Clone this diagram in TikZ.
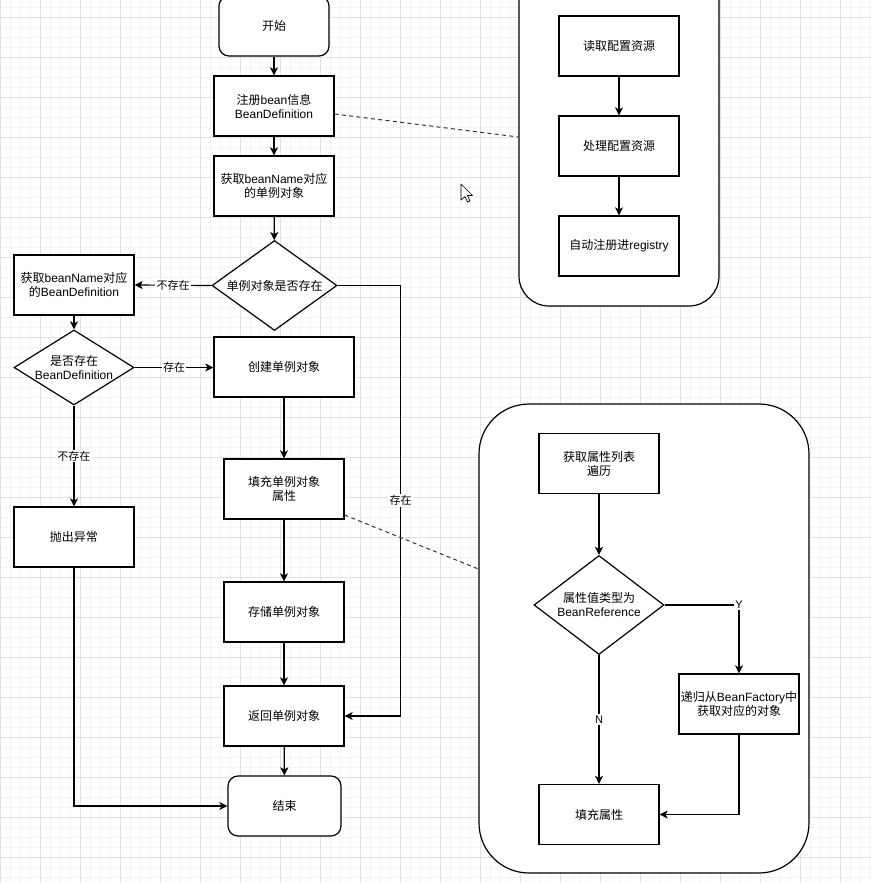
\documentclass[tikz,border=0pt]{standalone}
\usepackage{fontspec}
\setmainfont{Liberation Sans}
\newfontfamily\cjk{Noto Sans CJK SC}
\usetikzlibrary{shapes.geometric, arrows.meta, calc}
\definecolor{gridmajor}{RGB}{226,226,226}
\definecolor{gridminor}{RGB}{244,244,244}

\begin{document}
\begin{tikzpicture}[x=0.75pt, y=-0.75pt, font=\fontsize{9}{10.5}\selectfont,
	box/.style={draw, fill=white, line width=0.9pt, minimum width=90pt, minimum height=45pt, align=center, inner sep=0pt},
	term/.style={box, rounded corners=7.5pt},
	decision/.style={diamond, draw, fill=white, line width=0.9pt, inner sep=0pt},
	group/.style={draw, fill=white, line width=0.9pt, inner sep=0pt},
	flow/.style={line width=0.9pt, -{Stealth[length=6pt, width=6pt, inset=1.5pt]}},
	link/.style={line width=0.75pt, dash pattern=on 3pt off 2.5pt, black!80},
	lbl/.style={fill=white, inner sep=1pt, font=\fontsize{8.25}{10}\selectfont}]
	\useasboundingbox (0,0) rectangle (871,883);
	% Background grid
	\fill[white] (0,0) rectangle (871,883);
	\foreach \x in {0,10,...,870} {
		\draw[gridminor, line width=0.75pt] (\x,0) -- (\x,883);
	}
	\foreach \y in {7,17,...,877} {
		\draw[gridminor, line width=0.75pt] (0,\y) -- (871,\y);
	}
	\foreach \x in {0,40,...,840} {
		\draw[gridmajor, line width=0.75pt] (\x,0) -- (\x,883);
	}
	\foreach \y in {17,57,...,857} {
		\draw[gridmajor, line width=0.75pt] (0,\y) -- (871,\y);
	}
	
	% Containers on the right
	\node[group, rounded corners=22.5pt, minimum width=150pt, minimum height=253.5pt] (cfg) at (619,137) {};
	\node[group, rounded corners=37.5pt, minimum width=247.5pt, minimum height=351.75pt] (prop) at (644,638.5) {};
	
	% Main flow
	\node[term, minimum width=82.5pt] (start) at (274,26) {\cjk 开始};
	\node[box] (reg) at (274,106) {{\cjk 注册}bean{\cjk 信息}\\BeanDefinition};
	\node[box] (getobj) at (274,186) {{\cjk 获取}beanName{\cjk 对应}\\{\cjk 的单例对象}};
	\node[decision, minimum width=93.75pt, minimum height=67.5pt, label={[align=center]center:{\cjk 单例对象是否存在}}] (exist) at (274.5,285.5) {};
	\node[box] (getbd) at (74,285) {{\cjk 获取}beanName{\cjk 对应}\\{\cjk 的}BeanDefinition};
	\node[decision, minimum width=90pt, minimum height=56.25pt, label={[align=center]center:{\cjk 是否存在}\\BeanDefinition}] (bdok) at (74,367.5) {};
	\node[box, minimum width=105pt] (create) at (284,367) {\cjk 创建单例对象};
	\node[box] (fill) at (284,489) {{\cjk 填充单例对象}\\{\cjk 属性}};
	\node[box] (throw) at (74,537) {\cjk 抛出异常};
	\node[box] (store) at (284,612) {\cjk 存储单例对象};
	\node[box] (ret) at (284,716) {\cjk 返回单例对象};
	\node[term, minimum width=84.75pt] (end) at (284.5,806) {\cjk 结束};
	
	% Config loading
	\node[box] (read) at (619,46) {\cjk 读取配置资源};
	\node[box] (handle) at (619,146) {\cjk 处理配置资源};
	\node[box] (auto) at (619,246) {{\cjk 自动注册进}registry};
	
	% Property filling
	\node[box] (plist) at (599,463.5) {{\cjk 获取属性列表}\\{\cjk 遍历}};
	\node[decision, minimum width=97.5pt, minimum height=74.25pt, label={[align=center]center:{\cjk 属性值类型为}\\BeanReference}] (ptype) at (599,605) {};
	\node[box] (recur) at (739,704) {{\cjk 递归从}BeanFactory{\cjk 中}\\{\cjk 获取对应的对象}};
	\node[box] (pfill) at (599,814.5) {\cjk 填充属性};
	
	% Connectors
	\draw[flow] (start) -- (reg);
	\draw[flow] (reg) -- (getobj);
	\draw[flow] (getobj) -- (exist);
	\draw[flow] (exist.west) -- node[lbl] {\cjk 不存在} (getbd.east);
	\draw[flow] (getbd) -- (bdok);
	\draw[flow] (bdok.east) -- node[lbl] {\cjk 存在} (bdok.east -| create.west);
	\draw[flow] (bdok) -- node[lbl] {\cjk 不存在} (throw);
	\draw[flow] (throw.south) |- (end.west);
	\draw[flow] (create) -- (fill);
	\draw[flow] (fill) -- (store);
	\draw[flow] (store) -- (ret);
	\draw[flow] (ret) -- (end);
	\draw[flow] (exist.east) -- ++(63,0) |- node[lbl, pos=0.25] {\cjk 存在} (ret.east);
	
	\draw[flow] (read) -- (handle);
	\draw[flow] (handle) -- (auto);
	
	\draw[flow] (plist) -- (ptype);
	\draw[flow] (ptype.east) -| node[lbl] {Y} (recur.north);
	\draw[flow] (ptype) -- node[lbl] {N} (pfill);
	\draw[flow] (recur.south) |- (pfill.east);
	
	% Dashed links to the detail groups
	\draw[link] ($(reg.east)+(0,8)$) -- (cfg.west);
	\draw[link] ($(fill.east)+(0,26)$) -- ($(prop.west)+(0,-69.5)$);
	
	% Mouse pointer
	\begin{scope}[shift={(461,184)}]
		\draw[fill=white, line width=0.5pt, line join=round] (0,0) -- (0,16) -- (4,12.5) -- (6.5,18) -- (9,17) -- (6.5,11.5) -- (11.5,11.5) -- cycle;
	\end{scope}
\end{tikzpicture}
\end{document}
